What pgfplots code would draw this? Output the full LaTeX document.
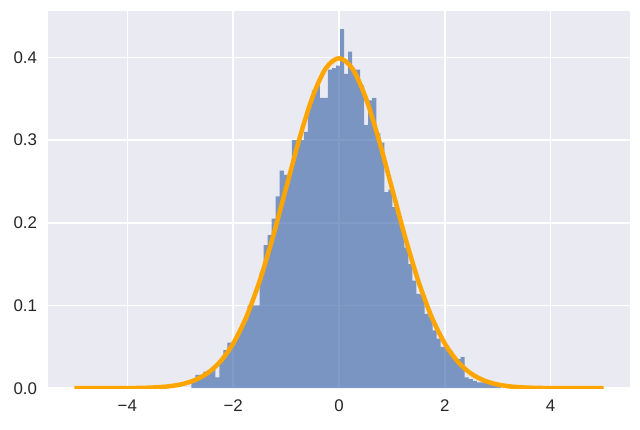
\documentclass[border=0pt]{standalone}
\usepackage{pgfplots}
\pgfplotsset{compat=1.18}
\usetikzlibrary{calc}
\usepackage{fontspec}
\setmainfont{Liberation Sans}

\definecolor{sbbg}{RGB}{234,234,242}
\definecolor{sbblue}{RGB}{76,114,176}
\definecolor{sbtext}{RGB}{38,38,38}
\definecolor{mplorange}{RGB}{255,165,0}

% histogram: left bin edges and density
\pgfplotstableread{
x y
-2.792 0.008
-2.716 0.016
-2.640 0.016
-2.564 0.020
-2.488 0.022
-2.412 0.025
-2.336 0.013
-2.260 0.032
-2.184 0.046
-2.108 0.055
-2.032 0.053
-1.956 0.066
-1.880 0.074
-1.804 0.082
-1.728 0.100
-1.652 0.100
-1.576 0.100
-1.500 0.140
-1.424 0.173
-1.348 0.185
-1.272 0.205
-1.196 0.232
-1.120 0.263
-1.044 0.258
-0.968 0.259
-0.892 0.300
-0.816 0.300
-0.740 0.300
-0.664 0.310
-0.588 0.342
-0.512 0.360
-0.436 0.369
-0.360 0.351
-0.284 0.351
-0.208 0.385
-0.132 0.387
-0.056 0.390
0.020 0.434
0.096 0.380
0.172 0.407
0.248 0.385
0.324 0.385
0.400 0.366
0.476 0.318
0.552 0.348
0.628 0.351
0.704 0.308
0.780 0.297
0.856 0.237
0.932 0.240
1.008 0.219
1.084 0.210
1.160 0.195
1.236 0.170
1.312 0.150
1.388 0.130
1.464 0.114
1.540 0.113
1.616 0.090
1.692 0.086
1.768 0.070
1.844 0.060
1.920 0.050
1.996 0.049
2.072 0.045
2.148 0.035
2.224 0.035
2.300 0.038
2.376 0.013
2.452 0.011
2.528 0.009
2.604 0.007
2.680 0.007
2.756 0.007
2.832 0.007
2.908 0.005
2.984 0.002
3.060 0.002
}\histdata

% normal pdf, tabulated
\pgfplotstableread{
x y
-5.00 0.0000015
-4.75 0.0000051
-4.50 0.000016
-4.25 0.000047
-4.00 0.000134
-3.75 0.00035
-3.50 0.00087
-3.25 0.00203
-3.00 0.00443
-2.75 0.0091
-2.50 0.0175
-2.25 0.0317
-2.00 0.0540
-1.75 0.0863
-1.50 0.1295
-1.25 0.1826
-1.00 0.2420
-0.75 0.3011
-0.50 0.3521
-0.25 0.3867
0.00 0.3989
0.25 0.3867
0.50 0.3521
0.75 0.3011
1.00 0.2420
1.25 0.1826
1.50 0.1295
1.75 0.0863
2.00 0.0540
2.25 0.0317
2.50 0.0175
2.75 0.0091
3.00 0.00443
3.25 0.00203
3.50 0.00087
3.75 0.00035
4.00 0.000134
4.25 0.000047
4.50 0.000016
4.75 0.0000051
5.00 0.0000015
}\pdfdata

\begin{document}
\begin{tikzpicture}
\begin{axis}[
    name=ax,
    scale only axis,
    width=14.55cm, height=9.43cm,
    xmin=-5.5, xmax=5.5,
    ymin=0, ymax=0.456,
    axis background/.style={fill=sbbg},
    axis line style={draw=none},
    grid=major,
    major grid style={white, line width=1.1pt},
    major tick length=0pt,
    xtick={-4,-2,0,2,4},
    xticklabels={−4,−2,0,2,4},
    ytick={0,0.1,0.2,0.3,0.4},
    yticklabels={0.0,0.1,0.2,0.3,0.4},
    tick label style={font=\fontsize{12}{14}\selectfont, text=sbtext},
    xticklabel style={yshift=-0.17cm},
    yticklabel style={xshift=-0.15cm},
]
  \addplot[ybar interval, fill=sbblue, fill opacity=0.7, draw=none] table[x=x, y=y] {\histdata};
  \addplot[mplorange, line width=3.2pt, smooth] table[x=x, y=y] {\pdfdata};
\end{axis}
\path ($(ax.south west)+(-1.2cm,-1.025cm)$) rectangle ($(ax.north east)+(0.25cm,0.275cm)$);
\end{tikzpicture}
\end{document}
